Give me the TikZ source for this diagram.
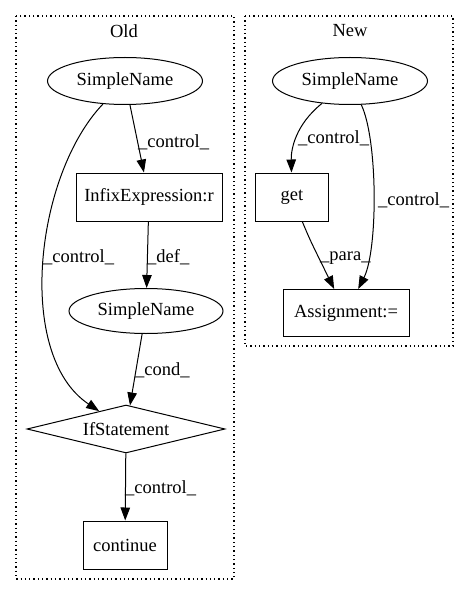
\documentclass[tikz,border=0pt]{standalone}
\usepackage{fontspec}
\setmainfont{Liberation Serif}
\usetikzlibrary{shapes.geometric,arrows.meta}
\begin{document}
\begin{tikzpicture}[x=1pt,y=-1pt,
  every node/.style={font=\fontsize{18.5pt}{21pt}\selectfont},
  cluster/.style={draw, line width=1.2pt, dash pattern=on 1.3pt off 3pt},
  ell/.style={draw, ellipse, line width=1pt, inner sep=0pt, minimum width=155pt, minimum height=47pt},
  box/.style={draw, rectangle, line width=1pt, inner sep=0pt, minimum height=48pt},
  dia/.style={draw, diamond, line width=1pt, aspect=4, inner sep=0pt, minimum width=198pt, minimum height=48pt},
  edge/.style={draw, line width=1pt, -{Triangle[length=13pt,width=9.5pt]}},
  lbl/.style={anchor=west, inner sep=0pt}]
\useasboundingbox (0,0) rectangle (472,596);
\fill[white] (0,0) rectangle (472,596);
% clusters
\draw[cluster] (16,16) rectangle (234,579);
\draw[cluster] (245,16) rectangle (453,346);
\node (oldlbl) at (124,31) {Old};
\node (newlbl) at (350,31) {New};
% Old nodes
\node[ell] (osn) at (125,81) {SimpleName};
\node[box, minimum width=146pt] (infix) at (149,197) {InfixExpression:r};
\node[ell, minimum width=154pt, minimum height=45pt] (osn2) at (146,311) {SimpleName};
\node[dia] (ifs) at (126,429) {IfStatement};
\node[box, minimum width=84pt] (cont) at (125,545) {continue};
% New nodes
\node[ell] (nsn) at (350,81) {SimpleName};
\node[box, minimum width=73pt] (get) at (292,197) {get};
\node[box, minimum width=126pt, minimum height=47pt] (asg) at (346,313) {Assignment:=};
% Old edges
\draw[edge] (osn) -- (infix);
\draw[edge] (osn) .. controls (35,175) and (15,355) .. (ifs);
\draw[edge] (infix) -- (osn2);
\draw[edge] (osn2) -- (ifs);
\draw[edge] (ifs) -- (cont);
% New edges
\draw[edge] (nsn) .. controls (295,125) and (291,150) .. (get);
\draw[edge] (nsn) .. controls (378,140) and (378,250) .. (asg);
\draw[edge] (get) .. controls (310,240) .. (asg);
% labels
\node[lbl] (l1) at (138,142) {\_control\_};
\node[lbl] (l2) at (43,257) {\_control\_};
\node[lbl] (l3) at (147,257) {\_def\_};
\node[lbl] (l4) at (135,370) {\_cond\_};
\node[lbl] (l5) at (125,488) {\_control\_};
\node[lbl] (l6) at (298,138) {\_control\_};
\node[lbl] (l7) at (378,200) {\_control\_};
\node[lbl] (l8) at (320,258) {\_para\_};
\end{tikzpicture}
\end{document}
